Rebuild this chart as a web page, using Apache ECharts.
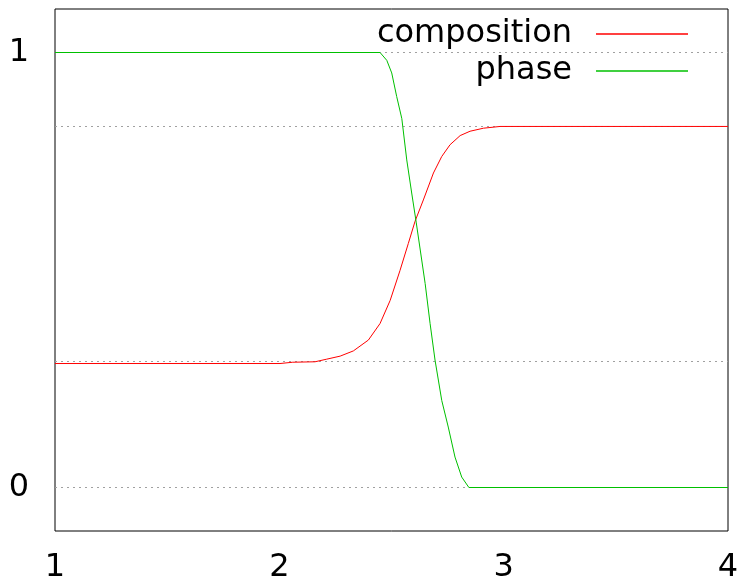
<!DOCTYPE html>
<html>
<head>
<meta charset="utf-8">
<script src="https://cdn.jsdelivr.net/npm/echarts@6/dist/echarts.min.js"></script>
<style>html,body{margin:0;padding:0;background:#fff}#c{width:742px;height:580px}</style>
</head>
<body>
<div id="c"></div>
<script>
var compX = [1.0, 2.003, 2.06, 2.159, 2.211, 2.271, 2.330, 2.397, 2.449, 2.494, 2.538, 2.575, 2.605, 2.642, 2.687, 2.724, 2.761, 2.806, 2.850, 2.910, 2.984, 4.0];
var compY = [0.285, 0.285, 0.288, 0.289, 0.295, 0.302, 0.314, 0.339, 0.377, 0.430, 0.499, 0.561, 0.612, 0.661, 0.723, 0.761, 0.788, 0.809, 0.819, 0.826, 0.830, 0.830];
var phaseX = [1.0, 2.449, 2.479, 2.501, 2.523, 2.546, 2.568, 2.590, 2.610, 2.650, 2.672, 2.694, 2.724, 2.753, 2.783, 2.813, 2.845, 4.0];
var phaseY = [1.0, 1.0, 0.982, 0.953, 0.899, 0.848, 0.753, 0.677, 0.610, 0.469, 0.377, 0.293, 0.200, 0.139, 0.070, 0.024, 0.0, 0.0];
var xTicks = [1, 2, 3, 4];
var yLabelValues = [0, 1];
var yGridValues = [0, 0.291, 0.830, 1];

function pairs(xs, ys) { return xs.map(function (x, i) { return [x, ys[i]]; }); }

var font = 'DejaVu Sans';
var chart = echarts.init(document.getElementById('c'), null, { renderer: 'canvas' });
chart.setOption({
  backgroundColor: '#fff',
  animation: false,
  grid: { left: 55, right: 14, top: 9, bottom: 49, show: true, borderColor: '#000', borderWidth: 1,
    backgroundColor: 'transparent', outerBoundsMode: 'none', containLabel: false },
  legend: [
    { data: ['composition'], right: 49, top: 13, align: 'right', icon: 'rect', itemWidth: 92, itemHeight: 1.5,
      textStyle: { fontFamily: font, fontSize: 32, color: '#000', padding: [0, 19, 0, 0] } },
    { data: ['phase'], right: 49, top: 50, align: 'right', icon: 'rect', itemWidth: 92, itemHeight: 1.5,
      textStyle: { fontFamily: font, fontSize: 32, color: '#000', padding: [0, 19, 0, 0] } }
  ],
  xAxis: {
    type: 'value', min: 1, max: 4, interval: 1,
    axisLine: { show: false }, axisTick: { show: false }, splitLine: { show: false },
    axisLabel: { fontFamily: font, fontSize: 32, color: '#000', margin: 21,
      customValues: xTicks }
  },
  yAxis: {
    type: 'value', min: -0.1, max: 1.1,
    axisLine: { show: false },
    axisTick: { show: false, customValues: yGridValues },
    axisLabel: { fontFamily: font, fontSize: 32, color: '#000', margin: 26, customValues: yLabelValues },
    splitLine: { show: true, lineStyle: { color: '#a0a0a0', type: [2, 4], width: 1 } }
  },
  series: [
    { name: 'composition', type: 'line', data: pairs(compX, compY), showSymbol: false, smooth: false,
      lineStyle: { color: '#ff0000', width: 1 }, itemStyle: { color: '#ff0000' } },
    { name: 'phase', type: 'line', data: pairs(phaseX, phaseY), showSymbol: false, smooth: false,
      lineStyle: { color: '#00c000', width: 1 }, itemStyle: { color: '#00c000' } }
  ]
});
</script>
</body>
</html>
